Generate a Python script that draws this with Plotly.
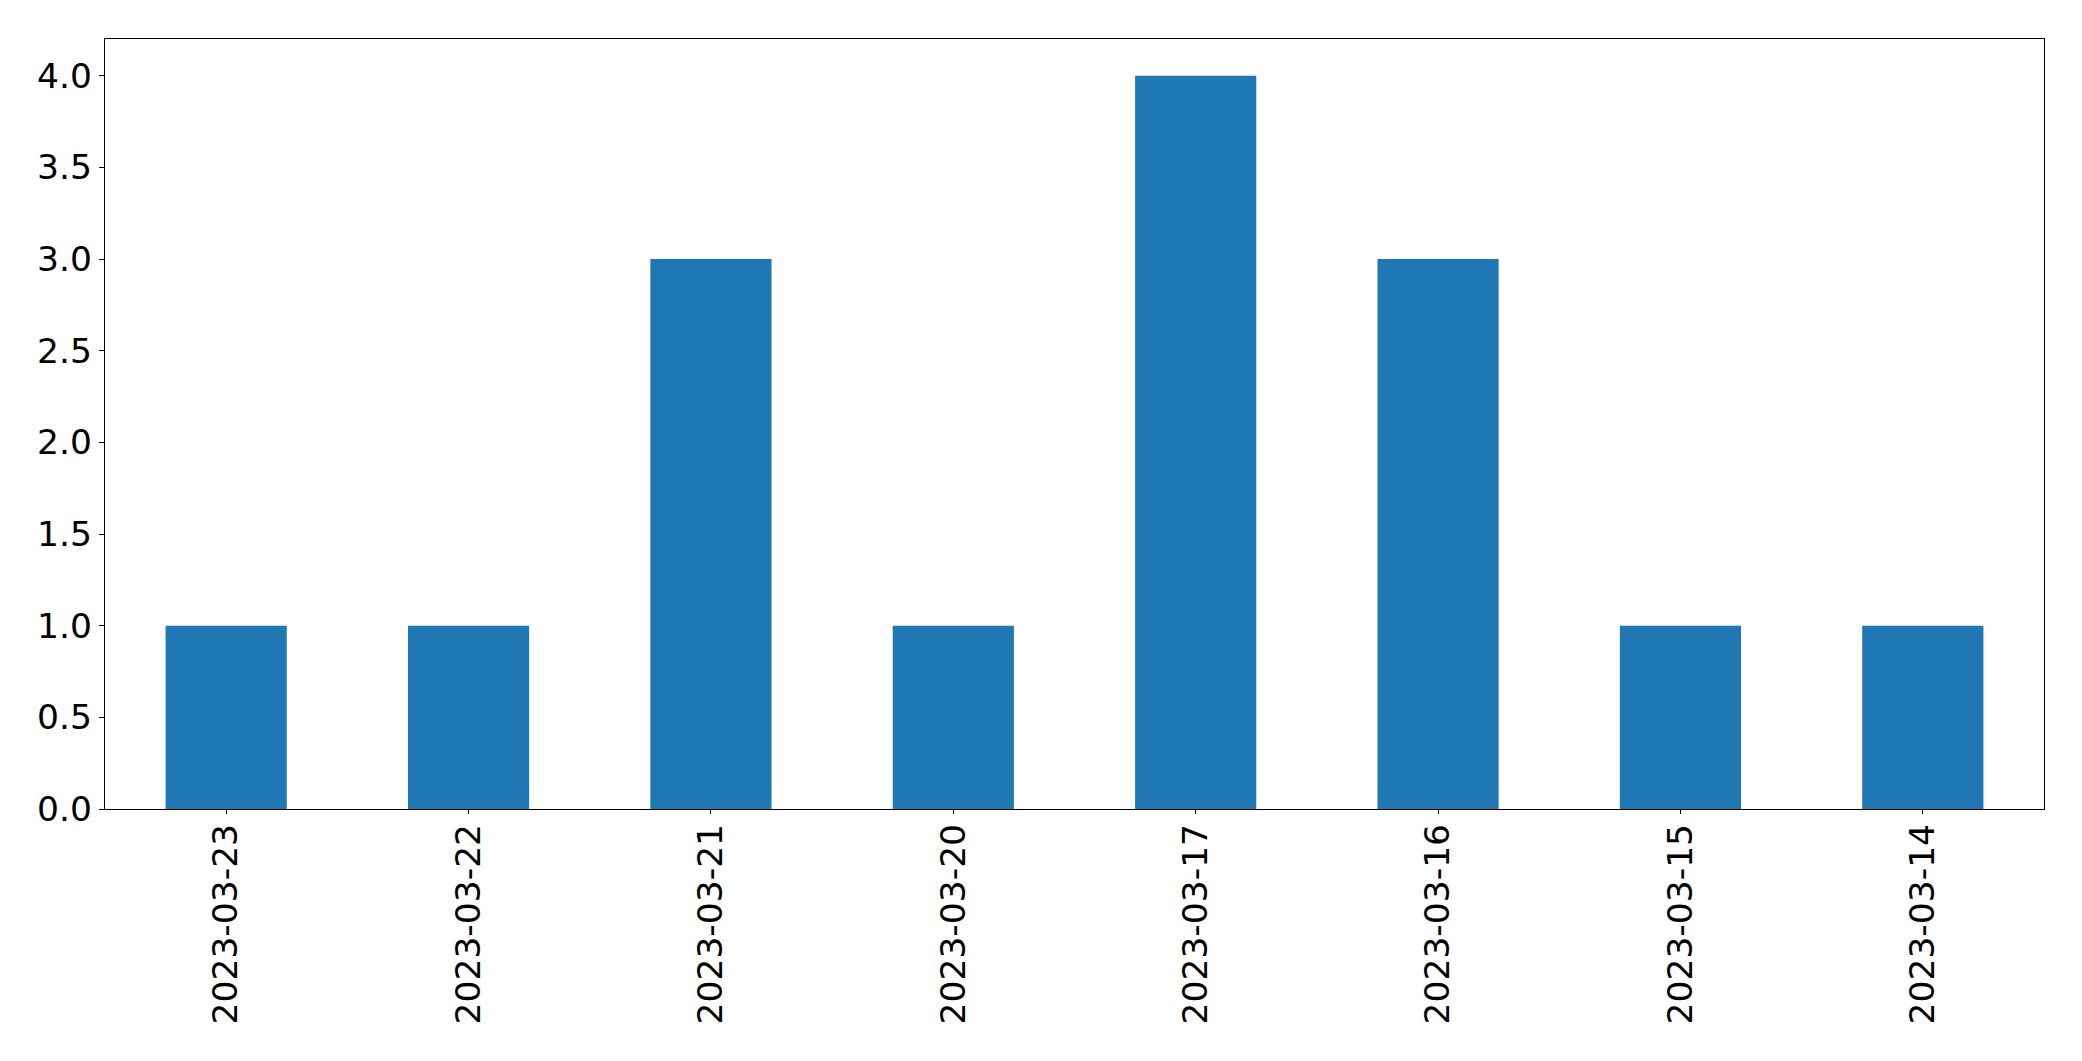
import plotly.graph_objects as go

dates = ["2023-03-23", "2023-03-22", "2023-03-21", "2023-03-20",
         "2023-03-17", "2023-03-16", "2023-03-15", "2023-03-14"]
counts = [1, 1, 3, 1, 4, 3, 1, 1]
y_ticks = [0.0, 0.5, 1.0, 1.5, 2.0, 2.5, 3.0, 3.5, 4.0]
y_tick_text = [f"{v:.1f}" for v in y_ticks]

fig = go.Figure(go.Bar(x=dates, y=counts, marker_color="#1f77b4",
                       marker_line_width=0, width=0.5))

font = dict(family="DejaVu Sans", size=34.5, color="black")
axis_common = dict(showline=True, linecolor="black", linewidth=1.3, mirror=True,
                   ticks="outside", tickwidth=1.3, tickcolor="black",
                   showgrid=False, zeroline=False, tickfont=font)

fig.update_layout(
    width=2074, height=1053,
    margin=dict(l=97, r=38, t=31, b=252),
    plot_bgcolor="white", paper_bgcolor="white",
    showlegend=False,
    xaxis=dict(type="category", tickangle=-90, range=[-0.5, 7.5], ticklen=4, **axis_common),
    yaxis=dict(range=[0, 4.2], tickvals=y_ticks, ticktext=y_tick_text, ticklen=5, **axis_common),
)

try:
    fig.update_xaxes(ticklabelstandoff=-4)
except Exception:
    pass

fig.write_html("out.html")
